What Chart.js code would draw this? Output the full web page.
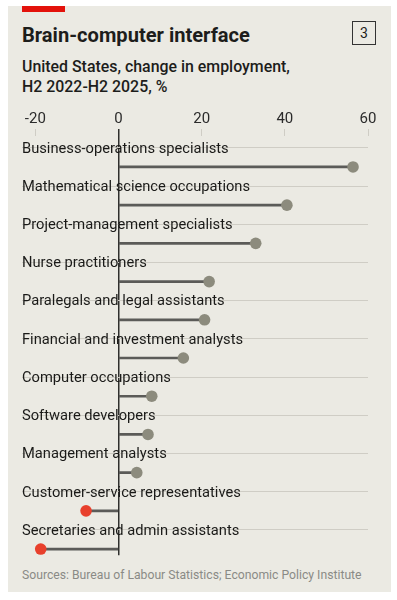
<!DOCTYPE html>
<html>
<head>
<meta charset="utf-8">
<script src="https://cdn.jsdelivr.net/npm/chart.js@4"></script>
<style>
  body { margin: 0; background: #fff; font-family: Roboto, sans-serif; }
  #panel { position: absolute; left: 8px; top: 6px; width: 383px; height: 586px; background: #ebeae3; }
  #redbar { position: absolute; left: 22px; top: 6px; width: 43px; height: 6px; background: #e3120b; }
  #title { position: absolute; left: 22px; top: 23px; font-size: 20.1px; font-weight: 700; color: #1d1d1b; }
  #num { position: absolute; left: 352px; top: 21px; width: 22px; height: 22px; border: 1px solid #333; font-size: 14px; line-height: 22px; text-align: center; color: #1d1d1b; }
  #subtitle { position: absolute; left: 22px; top: 57px; font-size: 15.9px; font-weight: 500; line-height: 19.5px; color: #1d1d1b; }
  #wrap { position: absolute; left: 8px; top: 103px; width: 383px; height: 461px; }
  #source { position: absolute; left: 22px; top: 568px; font-size: 12.2px; color: #8a8a86; }
</style>
</head>
<body>
<div id="panel"></div>
<div id="redbar"></div>
<div id="title">Brain-computer interface</div>
<div id="num">3</div>
<div id="subtitle">United States, change in employment,<br>H2 2022-H2 2025, %</div>
<div id="wrap"><canvas id="chart"></canvas></div>
<div id="source">Sources: Bureau of Labour Statistics; Economic Policy Institute</div>

<script>
// data
const categories = [
    'Business-operations specialists',
    'Mathematical science occupations',
    'Project-management specialists',
    'Nurse practitioners',
    'Paralegals and legal assistants',
    'Financial and investment analysts',
    'Computer occupations',
    'Software developers',
    'Management analysts',
    'Customer-service representatives',
    'Secretaries and admin assistants'
];
const changes = [56.4, 40.5, 33, 21.8, 20.7, 15.6, 8, 7.1, 4.4, -7.8, -18.7];
const xTicks = [-20, 0, 20, 40, 60];

const stemData = changes.map((v, i) => ({ y: i, x: [0, v] }));
const dotData = changes.map((v, i) => ({ y: i, x: v }));
const dotColors = changes.map(v => v < 0 ? '#e8402c' : '#8c8b7d');

const ctx = document.getElementById('chart').getContext('2d');
new Chart(ctx, {
    type: 'bar',
    data: {
        datasets: [{
            type: 'bar',
            data: stemData,
            backgroundColor: '#5b5b58',
            barThickness: 2,
            order: 2
        }, {
            type: 'scatter',
            data: dotData,
            pointRadius: 5.8,
            pointHoverRadius: 5.8,
            pointBackgroundColor: dotColors,
            pointBorderWidth: 0,
            order: 1
        }]
    },
    options: {
        indexAxis: 'y',
        responsive: true,
        maintainAspectRatio: false,
        animation: false,
        layout: { padding: { left: 14, right: 23, top: 6, bottom: 0 } },
        plugins: { legend: { display: false }, tooltip: { enabled: false } },
        scales: {
            x: {
                type: 'linear',
                position: 'top',
                min: -23.2,
                max: 60,
                afterBuildTicks: scale => { scale.ticks = xTicks.map(v => ({ value: v })); },
                ticks: {
                    padding: 1,
                    color: '#2b2b2b',
                    font: { family: 'Roboto', size: 15 }
                },
                border: { display: false },
                grid: {
                    drawOnChartArea: true,
                    tickLength: 7,
                    color: c => c.tick && c.tick.value === 0 ? '#2f2f2d' : 'rgba(0,0,0,0)',
                    tickColor: c => c.tick && c.tick.value === 0 ? '#2f2f2d' : '#cfcdc5',
                    lineWidth: c => c.tick && c.tick.value === 0 ? 1.5 : 1
                }
            },
            y: {
                type: 'linear',
                reverse: true,
                offset: false,
                min: -0.81,
                max: 10.16,
                afterBuildTicks: scale => { scale.ticks = categories.map((c, i) => ({ value: i })); },
                ticks: {
                    mirror: true,
                    padding: 0,
                    labelOffset: -18,
                    color: '#1a1a18',
                    font: { family: 'Roboto', size: 14.7 },
                    callback: value => categories[value]
                },
                border: { display: false },
                grid: {
                    drawTicks: false,
                    color: '#cfcdc5',
                    lineWidth: 1
                }
            }
        }
    }
});
</script>
</body>
</html>
